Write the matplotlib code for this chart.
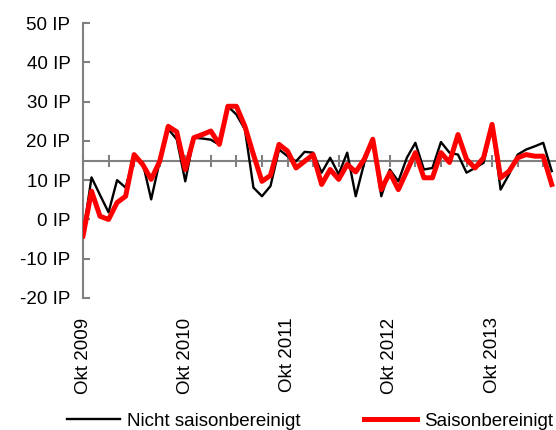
import matplotlib
matplotlib.use("Agg")
import matplotlib.pyplot as plt

plt.rcParams['font.family'] = ['Liberation Sans', 'DejaVu Sans']

# month index 0 = Okt 2009
nsa = [-4.0, 10.7, 6.2, 1.8, 10.0, 8.1, 16.0, 14.5, 5.1, 14.8, 23.0, 20.4,
       9.7, 20.8, 20.6, 20.3, 19.0, 28.8, 26.7, 22.9, 8.1, 5.9, 8.5, 17.8,
       16.1, 14.8, 17.2, 17.0, 11.9, 15.7, 11.5, 17.0, 5.9, 14.4, 20.0, 5.9,
       12.7, 9.7, 15.7, 19.5, 12.7, 13.1, 19.7, 17.0, 16.5, 11.9, 13.1, 14.4,
       24.0, 7.6, 11.5, 16.5, 17.8, 18.6, 19.5, 12.3]
sa = [-4.2, 7.2, 0.8, 0.0, 4.3, 5.9, 16.5, 14.0, 10.2, 14.8, 23.7, 22.3,
      12.7, 20.8, 21.6, 22.5, 19.1, 28.8, 28.8, 23.7, 16.5, 9.7, 11.2, 19.1,
      17.4, 13.1, 14.8, 16.5, 8.9, 12.7, 10.2, 14.0, 12.1, 15.3, 20.4, 7.6,
      11.9, 7.6, 12.3, 17.0, 10.6, 10.6, 17.0, 14.5, 21.6, 15.3, 13.1, 15.7,
      24.2, 10.6, 12.3, 15.7, 16.5, 16.1, 16.1, 8.9]
months = list(range(len(sa)))
label_pos = [0, 12, 24, 36, 48]
label_txt = ['Okt 2009', 'Okt 2010', 'Okt 2011', 'Okt 2012', 'Okt 2013']
yticks = [-20, -10, 0, 10, 20, 30, 40, 50]
ytick_labels = ['-20 IP', '-10 IP', '0 IP', '10 IP', '20 IP', '30 IP', '40 IP', '50 IP']
series_names = ['Nicht saisonbereinigt', 'Saisonbereinigt']

gray = '#808080'
fs = 13.5
fig = plt.figure(figsize=(5.56, 4.30), dpi=100)
ax = fig.add_axes([83/556, (430-298)/430, 1 - 83/556, (298-23)/430])

l1, = ax.plot(months, nsa, color='black', lw=1.7, zorder=3)
l2, = ax.plot(months, sa, color='#ff0000', lw=3.6, zorder=4)

ax.set_xlim(0, 55.5)
ax.set_ylim(-20, 50)

for s in ['top', 'right']:
    ax.spines[s].set_visible(False)
ax.spines['left'].set_color(gray)
ax.spines['left'].set_linewidth(1.5)
ax.spines['bottom'].set_position(('data', 15))
ax.spines['bottom'].set_color(gray)
ax.spines['bottom'].set_linewidth(1.5)
ax.spines['bottom'].set_zorder(2)

ax.set_yticks(yticks)
ax.set_yticklabels(ytick_labels, fontsize=fs)
ax.tick_params(axis='y', direction='in', length=5, width=1.5, color=gray, pad=9)

ax.set_xticks(list(range(0, 56, 3)))
ax.set_xticklabels([])
ax.tick_params(axis='x', direction='inout', length=8, width=1.5, color=gray)

sec = ax.secondary_xaxis(0.0)
sec.set_xticks(label_pos)
sec.set_xticklabels(label_txt, rotation=90, fontsize=fs, va='top', ha='center')
sec.tick_params(axis='x', length=0, pad=14)
sec.spines['bottom'].set_visible(False)

fig.legend([l1, l2], series_names, loc='center left', bbox_to_anchor=(67/556, 9/430),
           ncol=2, frameon=False, fontsize=fs, handlelength=2.8, handletextpad=0.4,
           columnspacing=3.4, borderpad=0, borderaxespad=0)

fig.savefig('out.png', dpi=100)
